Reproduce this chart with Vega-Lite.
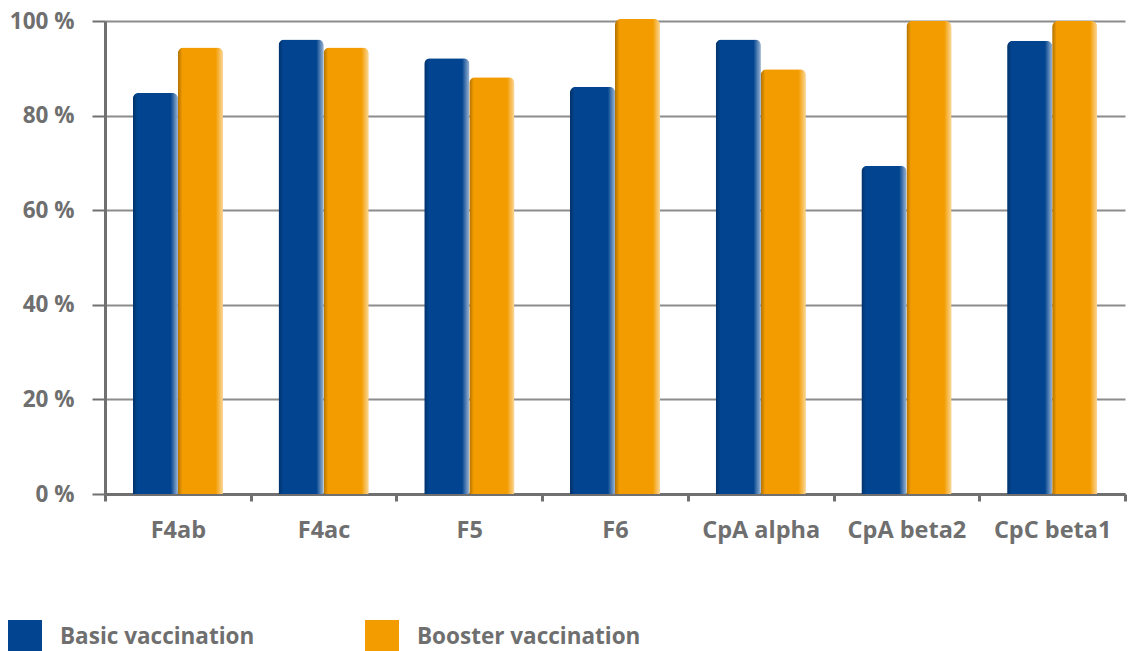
{
  "$schema": "https://vega.github.io/schema/vega-lite/v6.json",
  "autosize": {"type": "none"},
  "padding": {"left": 105, "top": 21, "right": 0, "bottom": 157},
  "width": 1028,
  "height": 473,
  "background": "white",
  "config": {
    "view": {"stroke": null},
    "font": "Open Sans",
    "axis": {
      "labelFont": "Open Sans",
      "labelFontWeight": "bold",
      "labelColor": "#6f6f6f",
      "domainColor": "#707070",
      "tickColor": "#707070",
      "gridColor": "#8c8c8c"
    },
    "legend": {
      "labelFont": "Open Sans",
      "labelFontWeight": "bold",
      "labelColor": "#6f6f6f"
    }
  },
  "data": {
    "values": [
      {"antigen": "F4ab", "series": "Basic vaccination", "pct": 84.8},
      {"antigen": "F4ab", "series": "Booster vaccination", "pct": 94.4},
      {"antigen": "F4ac", "series": "Basic vaccination", "pct": 96.1},
      {"antigen": "F4ac", "series": "Booster vaccination", "pct": 94.4},
      {"antigen": "F5", "series": "Basic vaccination", "pct": 92.1},
      {"antigen": "F5", "series": "Booster vaccination", "pct": 88.1},
      {"antigen": "F6", "series": "Basic vaccination", "pct": 86.1},
      {"antigen": "F6", "series": "Booster vaccination", "pct": 100.4},
      {"antigen": "CpA alpha", "series": "Basic vaccination", "pct": 96.1},
      {"antigen": "CpA alpha", "series": "Booster vaccination", "pct": 89.8},
      {"antigen": "CpA beta2", "series": "Basic vaccination", "pct": 69.4},
      {"antigen": "CpA beta2", "series": "Booster vaccination", "pct": 100},
      {"antigen": "CpC beta1", "series": "Basic vaccination", "pct": 95.8},
      {"antigen": "CpC beta1", "series": "Booster vaccination", "pct": 100}
    ]
  },
  "encoding": {
    "x": {
      "field": "antigen",
      "type": "nominal",
      "sort": null,
      "title": null,
      "scale": {"range": [0, 1020], "paddingInner": 0, "paddingOuter": 0},
      "axis": {
        "labelAngle": 0,
        "labelFontSize": 23.5,
        "labelPadding": 17,
        "domainWidth": 3,
        "tickWidth": 3,
        "tickSize": 7,
        "tickBand": "extent",
        "grid": false
      }
    },
    "xOffset": {
      "field": "series",
      "type": "nominal",
      "scale": {"paddingInner": 0, "paddingOuter": 0.618}
    },
    "y": {
      "field": "pct",
      "type": "quantitative",
      "title": null,
      "scale": {"domain": [0, 100], "nice": false, "clamp": false},
      "axis": {
        "values": [0, 20, 40, 60, 80, 100],
        "labelExpr": "datum.value + ' %'",
        "labelFontSize": 22.5,
        "labelPadding": 18,
        "tickSize": 13,
        "tickWidth": 2,
        "gridWidth": 2,
        "domainWidth": 3
      }
    }
  },
  "layer": [
    {
      "mark": {"type": "bar", "cornerRadiusTopLeft": 6, "cornerRadiusTopRight": 6, "clip": false},
      "encoding": {
        "color": {
          "field": "series",
          "type": "nominal",
          "title": null,
          "scale": {"domain": ["Basic vaccination", "Booster vaccination"], "range": ["#02448f", "#f39c00"]},
          "legend": {
            "orient": "none",
            "direction": "horizontal",
            "legendX": -97,
            "legendY": 599,
            "padding": 0,
            "symbolType": "square",
            "symbolSize": 1156,
            "symbolStrokeWidth": 0,
            "symbolOpacity": 1,
            "labelFontSize": 22.5,
            "labelOffset": 18,
            "labelLimit": 400,
            "columnPadding": 110
          }
        }
      }
    },
    {
      "mark": {
        "type": "bar",
        "cornerRadiusTopLeft": 6,
        "cornerRadiusTopRight": 6,
        "clip": false,
        "fill": {
          "gradient": "linear",
          "x1": 0, "y1": 0, "x2": 1, "y2": 0,
          "stops": [
            {"offset": 0, "color": "rgba(0,0,0,0.28)"},
            {"offset": 0.1, "color": "rgba(0,0,0,0)"},
            {"offset": 0.84, "color": "rgba(255,255,255,0)"},
            {"offset": 1, "color": "rgba(255,255,255,0.6)"}
          ]
        }
      }
    }
  ]
}
